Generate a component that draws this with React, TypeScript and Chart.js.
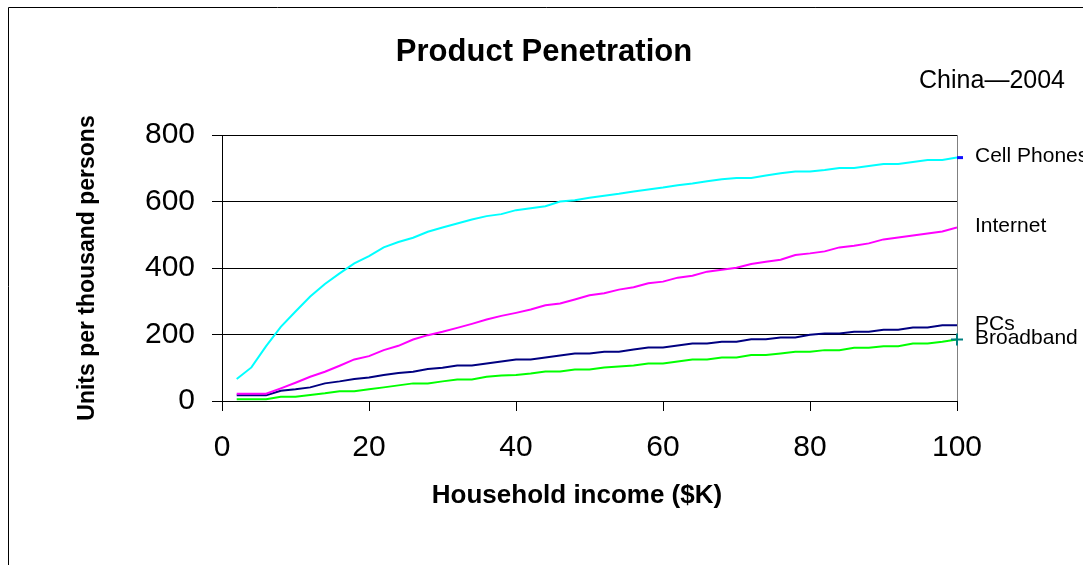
import React, { useEffect, useRef } from 'react';
import { Chart, registerables } from 'chart.js';

Chart.register(...registerables);

const incomes = [2, 4, 6, 8, 10, 12, 14, 16, 18, 20, 22, 24, 26, 28, 30, 32, 34, 36, 38, 40, 42, 44, 46, 48, 50, 52, 54, 56, 58, 60, 62, 64, 66, 68, 70, 72, 74, 76, 78, 80, 82, 84, 86, 88, 90, 92, 94, 96, 98, 100];

const cellPhones = [66, 101, 165, 223, 269, 314, 352, 384, 414, 436, 462, 478, 491, 509, 522, 534, 546, 556, 562, 574, 580, 586, 600, 604, 611, 617, 623, 630, 636, 642, 649, 654, 661, 667, 671, 671, 678, 685, 690, 690, 695, 701, 701, 707, 713, 713, 719, 725, 725, 732];

const internet = [22, 22, 22, 38, 55, 73, 88, 106, 125, 135, 153, 166, 185, 198, 208, 220, 232, 245, 256, 265, 275, 288, 293, 305, 318, 324, 335, 342, 354, 359, 371, 377, 389, 395, 401, 412, 419, 425, 439, 444, 450, 462, 467, 474, 486, 492, 498, 504, 510, 522];

const pcs = [17, 17, 17, 31, 35, 41, 53, 59, 66, 71, 78, 84, 88, 96, 100, 107, 107, 113, 119, 125, 125, 131, 137, 143, 143, 148, 148, 155, 161, 161, 167, 173, 173, 178, 178, 186, 186, 191, 191, 199, 203, 203, 208, 208, 214, 214, 221, 221, 228, 228];

const broadband = [5, 5, 5, 13, 13, 18, 23, 29, 29, 35, 41, 47, 53, 53, 59, 65, 65, 73, 77, 78, 83, 89, 89, 95, 95, 101, 104, 107, 113, 113, 119, 125, 125, 131, 131, 138, 138, 143, 148, 148, 153, 153, 160, 160, 165, 165, 173, 173, 178, 185];

const seriesNames = ['Cell Phones', 'Internet', 'PCs', 'Broadband'];
const seriesValues = [cellPhones, internet, pcs, broadband];
const seriesColors = ['#00FFFF', '#FF00FF', '#000080', '#00FF00'];

const xTicks = [0, 20, 40, 60, 80, 100];
const yTicks = [0, 200, 400, 600, 800];

const chartTitle = 'Product Penetration';
const chartSubtitle = 'China\u20142004';
const xTitle = 'Household income ($K)';
const yTitle = 'Units per thousand persons';

const FONT = '"Liberation Sans", Arial, Helvetica, sans-serif';

const annotatePlugin = {
  id: 'annotate',
  afterDraw(chart: any) {
    const { ctx, chartArea, scales } = chart;
    const y = scales.y;
    ctx.save();
    // outer frame
    ctx.strokeStyle = '#000';
    ctx.lineWidth = 1;
    ctx.beginPath();
    ctx.moveTo(8.5, chart.height + 5);
    ctx.lineTo(8.5, 7.5);
    ctx.lineTo(chart.width + 5, 7.5);
    ctx.stroke();

    ctx.fillStyle = '#000';
    ctx.textBaseline = 'alphabetic';
    ctx.textAlign = 'center';
    ctx.font = `bold 31px ${FONT}`;
    ctx.fillText(chartTitle, 544, 61);

    ctx.textAlign = 'right';
    ctx.font = `25px ${FONT}`;
    ctx.fillText(chartSubtitle, 1065, 88);

    ctx.textAlign = 'center';
    ctx.font = `bold 26px ${FONT}`;
    ctx.fillText(xTitle, 577, 503);

    // end-of-line labels
    ctx.textAlign = 'left';
    ctx.textBaseline = 'middle';
    ctx.font = `21px ${FONT}`;
    seriesNames.forEach((name, i) => {
      const vals = seriesValues[i];
      const py = y.getPixelForValue(vals[vals.length - 1]);
      ctx.fillText(name, chartArea.right + 18, py - 1);
    });

    // end markers
    const cpY = y.getPixelForValue(cellPhones[cellPhones.length - 1]);
    ctx.strokeStyle = '#1010FF';
    ctx.lineWidth = 3;
    ctx.beginPath();
    ctx.moveTo(chartArea.right, cpY);
    ctx.lineTo(chartArea.right + 6, cpY);
    ctx.stroke();

    const bbY = y.getPixelForValue(broadband[broadband.length - 1]);
    ctx.strokeStyle = '#008080';
    ctx.lineWidth = 2;
    ctx.beginPath();
    ctx.moveTo(chartArea.right - 6, bbY);
    ctx.lineTo(chartArea.right + 6, bbY);
    ctx.moveTo(chartArea.right, bbY - 6);
    ctx.lineTo(chartArea.right, bbY + 6);
    ctx.stroke();
    ctx.restore();
  },
};

export default function App() {
  const canvasRef = useRef<HTMLCanvasElement | null>(null);

  useEffect(() => {
    const canvas = canvasRef.current;
    if (!canvas) return;
    const chart = new Chart(canvas, {
      type: 'line',
      data: {
        datasets: seriesNames.map((name, i) => ({
          label: name,
          data: incomes.map((x, j) => ({ x, y: seriesValues[i][j] })),
          borderColor: seriesColors[i],
          backgroundColor: seriesColors[i],
          borderWidth: 2,
          pointRadius: 0,
          tension: 0,
          fill: false,
        })),
      },
      options: {
        responsive: false,
        animation: false,
        layout: { padding: { left: 0, right: 126, top: 135, bottom: 0 } },
        plugins: {
          legend: { display: false },
          title: { display: false },
          tooltip: { enabled: false },
        },
        scales: {
          x: {
            type: 'linear',
            min: 0,
            max: 100,
            afterBuildTicks: (scale: any) => {
              scale.ticks = xTicks.map((v) => ({ value: v }));
            },
            afterFit: (scale: any) => {
              scale.height = 164;
            },
            ticks: {
              color: '#000',
              font: { family: FONT, size: 30 },
              padding: 19,
              maxRotation: 0,
              autoSkip: false,
            },
            grid: {
              display: true,
              drawOnChartArea: true,
              color: (c: any) => (c.tick && c.tick.value === 100 ? '#808080' : 'rgba(0,0,0,0)'),
              lineWidth: 1,
              tickColor: '#000',
              tickLength: 10,
            },
            border: { display: true, color: '#000', width: 1 },
          },
          y: {
            type: 'linear',
            min: 0,
            max: 800,
            afterBuildTicks: (scale: any) => {
              scale.ticks = yTicks.map((v) => ({ value: v }));
            },
            afterFit: (scale: any) => {
              scale.width = 222;
            },
            ticks: {
              color: '#000',
              font: { family: FONT, size: 30 },
              padding: 17,
            },
            grid: {
              color: '#000',
              lineWidth: 1,
              tickColor: '#000',
              tickLength: 10,
            },
            border: { display: true, color: '#000', width: 1 },
            title: {
              display: true,
              text: yTitle,
              color: '#000',
              font: { family: FONT, size: 23, weight: 'bold' },
              padding: { top: 74, bottom: 0 },
            },
          },
        },
      },
      plugins: [annotatePlugin],
    } as any);
    return () => chart.destroy();
  }, []);

  return (
    <div style={{ position: 'fixed', left: 0, top: 0, width: 1083, height: 565, background: '#fff', overflow: 'hidden' }}>
      <canvas ref={canvasRef} width={1083} height={565} style={{ display: 'block' }} />
    </div>
  );
}
